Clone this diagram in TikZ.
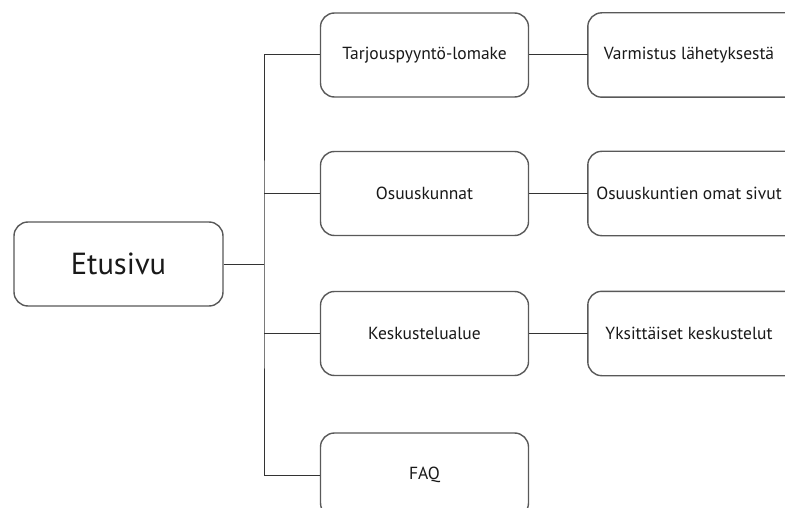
\documentclass[tikz,border=0pt]{standalone}
\usepackage{fontspec}
\setmainfont{PT Sans}
\begin{document}
\begin{tikzpicture}[x=1pt,y=-1pt,
  frame/.style={draw=black!65, line width=1.4pt, rounded corners=14pt},
  label/.style={minimum width=208pt, minimum height=84pt, inner sep=0pt,
    font=\fontsize{17.5}{20}\selectfont, text=black!90},
  page/.style={label, frame},
  link/.style={draw=black!80, line width=1pt}]
\useasboundingbox (0,0) rectangle (785,508);
\fill[white] (0,0) rectangle (785,508);
\clip (0,0) rectangle (785,508);
% home page
\node[page, minimum width=209pt, font=\fontsize{30.5}{34}\selectfont] (home) at (118.5,264) {Etusivu};
% second level
\node[page] (quote) at (424.5,55) {Tarjouspyyntö-lomake};
\node[page] (coop)  at (424.5,193.5) {Osuuskunnat};
\node[page] (forum) at (424.5,333.5) {Keskustelualue};
\node[page] (faq)   at (424.5,475) {FAQ};
% third level: frames run on past the right edge
\node[label, minimum width=202pt] (confirm) at (689,55) {Varmistus lähetyksestä};
\node[label, minimum width=202pt] (coopown) at (689,193.5) {Osuuskuntien omat sivut};
\node[label, minimum width=202pt] (threads) at (689,333.5) {Yksittäiset keskustelut};
\foreach \n in {confirm,coopown,threads}
  \draw[frame] (\n.north west) rectangle ([xshift=30pt]\n.south east);
% tree connectors
\coordinate (trunk) at (264,264);
\draw[link] (home.east) -- (trunk);
\draw[link] (quote.west) -| (trunk) |- (faq.west);
\draw[link] (coop.west) -- (coop.west -| trunk);
\draw[link] (forum.west) -- (forum.west -| trunk);
\draw[link] (quote.east) -- (confirm.west);
\draw[link] (coop.east) -- (coopown.west);
\draw[link] (forum.east) -- (threads.west);
\end{tikzpicture}
\end{document}
